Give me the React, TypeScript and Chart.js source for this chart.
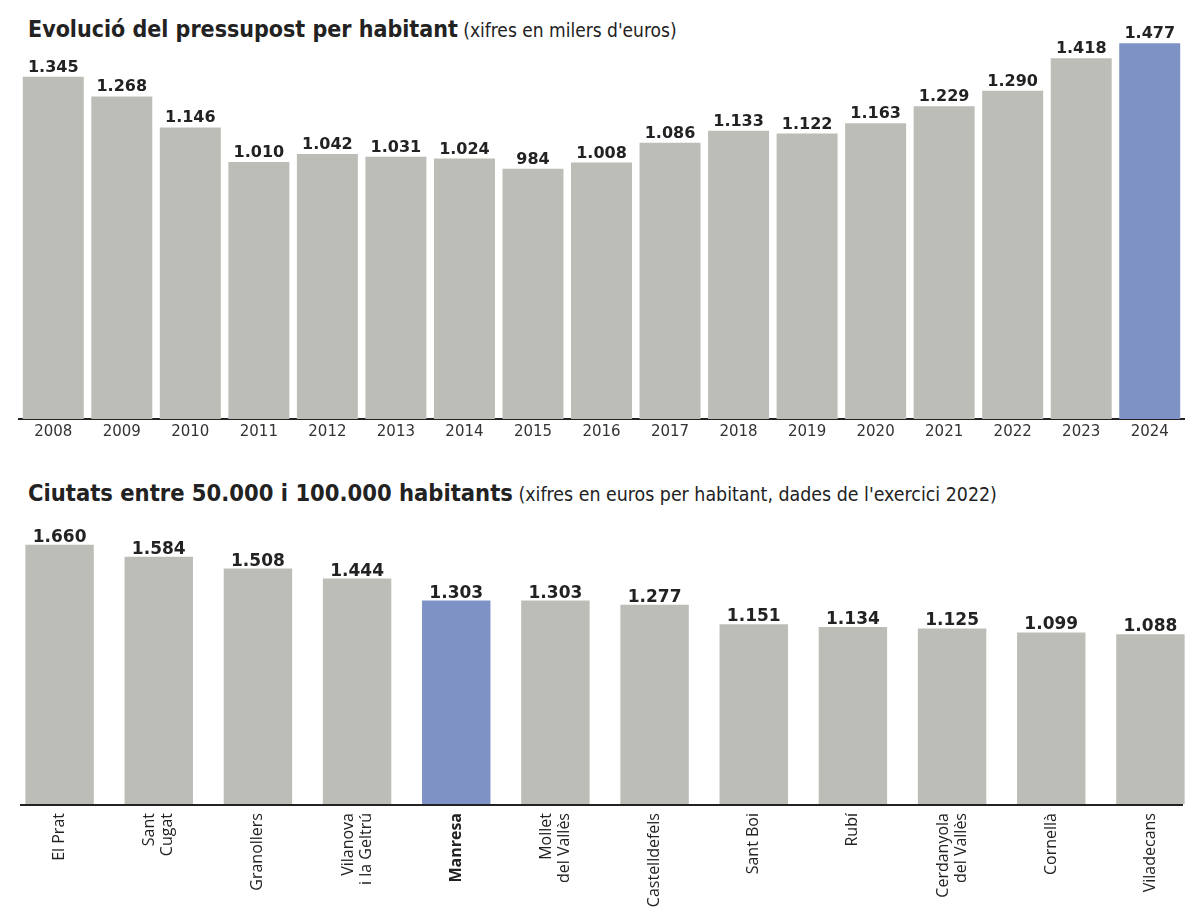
import React, { useEffect, useRef } from "react";
import { Chart, registerables } from "chart.js";

Chart.register(...registerables);

// ---------- data ----------
const years = ["2008", "2009", "2010", "2011", "2012", "2013", "2014", "2015", "2016", "2017", "2018", "2019", "2020", "2021", "2022", "2023", "2024"];
const budgetPerCapita = [1345, 1268, 1146, 1010, 1042, 1031, 1024, 984, 1008, 1086, 1133, 1122, 1163, 1229, 1290, 1418, 1477];
const highlightYear = "2024";

const cities = [
  ["El Prat"],
  ["Sant", "Cugat"],
  ["Granollers"],
  ["Vilanova", "i la Geltrú"],
  ["Manresa"],
  ["Mollet", "del Vallès"],
  ["Castelldefels"],
  ["Sant Boi"],
  ["Rubí"],
  ["Cerdanyola", "del Vallès"],
  ["Cornellà"],
  ["Viladecans"],
];
const cityValues = [1660, 1584, 1508, 1444, 1303, 1303, 1277, 1151, 1134, 1125, 1099, 1088];
const highlightCity = "Manresa";

const topTitle = "Evolució del pressupost per habitant";
const topSubtitle = "(xifres en milers d'euros)";
const bottomTitle = "Ciutats entre 50.000 i 100.000 habitants";
const bottomSubtitle = "(xifres en euros per habitant, dades de l'exercici 2022)";

// ---------- styles ----------
const GREY = "#bdbdb7";
const BLUE = "#7f92c6";
const INK = "#222222";
const CONDENSED = "'DejaVu Sans Condensed', 'Liberation Sans Narrow', 'DejaVu Sans', sans-serif";
const VALUE_FONT = "'DejaVu Sans', sans-serif";
const LABEL_FONT = "'Open Sans', 'DejaVu Sans', sans-serif";

function fmt(v: number): string {
  if (v >= 1000) {
    return `${Math.floor(v / 1000)}.${String(v % 1000).padStart(3, "0")}`;
  }
  return String(v);
}

const valueLabels = {
  id: "valueLabels",
  afterDatasetsDraw(chart: any, _args: any, opts: any) {
    const { ctx } = chart;
    const meta = chart.getDatasetMeta(0);
    const data = chart.data.datasets[0].data as number[];
    ctx.save();
    ctx.font = opts.font;
    ctx.fillStyle = opts.color;
    ctx.textAlign = "center";
    ctx.textBaseline = "alphabetic";
    meta.data.forEach((bar: any, i: number) => {
      ctx.fillText(fmt(data[i]), bar.x, bar.y - opts.offset);
    });
    ctx.restore();
  },
};

// bottom chart: axis line + rotated, centred multi-line category labels
const cityAxis = {
  id: "cityAxis",
  afterDraw(chart: any, _args: any, opts: any) {
    if (!opts || !opts.enabled) return;
    const { ctx, chartArea } = chart;
    const xScale = chart.scales.x;
    const y0 = chartArea.bottom + 1;
    ctx.save();
    ctx.strokeStyle = INK;
    ctx.lineWidth = 2;
    ctx.beginPath();
    ctx.moveTo(opts.x0, y0);
    ctx.lineTo(opts.x1, y0);
    ctx.stroke();

    ctx.fillStyle = INK;
    ctx.textAlign = "right";
    ctx.textBaseline = "middle";
    cities.forEach((lines, i) => {
      const x = xScale.getPixelForValue(i);
      const bold = lines.join(" ") === highlightCity;
      ctx.font = `${bold ? "bold " : ""}${opts.size}px ${LABEL_FONT}`;
      ctx.save();
      ctx.translate(x, y0 + opts.pad);
      ctx.rotate(-Math.PI / 2);
      lines.forEach((line, j) => {
        const dy = (j - (lines.length - 1) / 2) * opts.lineHeight;
        ctx.fillText(line, 0, dy);
      });
      ctx.restore();
    });
    ctx.restore();
  },
};

function TopChart() {
  const ref = useRef<HTMLCanvasElement | null>(null);
  useEffect(() => {
    if (!ref.current) return;
    const chart = new Chart(ref.current, {
      type: "bar",
      data: {
        labels: years,
        datasets: [
          {
            data: budgetPerCapita,
            backgroundColor: years.map((y) => (y === highlightYear ? BLUE : GREY)),
            categoryPercentage: 0.89,
            barPercentage: 1,
            borderWidth: 0,
          },
        ],
      },
      options: {
        responsive: false,
        animation: false,
        devicePixelRatio: 1,
        layout: { padding: { left: 19, right: 16, top: 12, bottom: 0 } },
        plugins: {
          legend: { display: false },
          tooltip: { enabled: false },
          title: { display: false },
          valueLabels: { font: `bold 16px ${VALUE_FONT}`, color: INK, offset: 5 },
        } as any,
        scales: {
          x: {
            grid: { display: false, drawTicks: false },
            border: { display: true, color: INK, width: 2 },
            ticks: {
              color: "#333333",
              font: { family: VALUE_FONT, size: 15 },
              padding: 4,
              autoSkip: false,
              maxRotation: 0,
            },
            afterFit: (axis: any) => {
              axis.height = 26;
            },
          },
          y: {
            display: false,
            min: 0,
            max: 1600,
          },
        },
      },
      plugins: [valueLabels],
    });
    return () => chart.destroy();
  }, []);
  return <canvas ref={ref} width={1200} height={445} style={{ position: "absolute", left: 0, top: 0 }} />;
}

function BottomChart() {
  const ref = useRef<HTMLCanvasElement | null>(null);
  useEffect(() => {
    if (!ref.current) return;
    const chart = new Chart(ref.current, {
      type: "bar",
      data: {
        labels: cities.map((c) => c.join(" ")),
        datasets: [
          {
            data: cityValues,
            backgroundColor: cities.map((c) => (c.join(" ") === highlightCity ? BLUE : GREY)),
            categoryPercentage: 0.69,
            barPercentage: 1,
            borderWidth: 0,
          },
        ],
      },
      options: {
        responsive: false,
        animation: false,
        devicePixelRatio: 1,
        layout: { padding: { left: 10, right: 0, top: 13, bottom: 0 } },
        plugins: {
          legend: { display: false },
          tooltip: { enabled: false },
          title: { display: false },
          valueLabels: { font: `bold 17px ${VALUE_FONT}`, color: INK, offset: 3 },
          cityAxis: { enabled: true, x0: 20, x1: 1183, pad: 8, size: 16, lineHeight: 18 },
        } as any,
        scales: {
          x: {
            grid: { display: false, drawTicks: false },
            border: { display: false },
            ticks: { display: false },
            afterFit: (axis: any) => {
              axis.height = 111;
            },
          },
          y: {
            display: false,
            min: 0,
            max: 1800,
          },
        },
      },
      plugins: [valueLabels, cityAxis],
    });
    return () => chart.destroy();
  }, []);
  return <canvas ref={ref} width={1200} height={405} style={{ position: "absolute", left: 0, top: 510 }} />;
}

function Title({ top, main, sub, mainSize, subSize }: { top: number; main: string; sub: string; mainSize: number; subSize: number }) {
  return (
    <div
      style={{
        position: "absolute",
        left: 28,
        top,
        whiteSpace: "nowrap",
        color: INK,
        lineHeight: "28px",
      }}
    >
      <span style={{ fontFamily: CONDENSED, fontStretch: "condensed", fontWeight: "bold", fontSize: mainSize }}>{main}</span>
      <span style={{ fontFamily: CONDENSED, fontStretch: "condensed", fontWeight: "normal", fontSize: subSize }}> {sub}</span>
    </div>
  );
}

export default function App() {
  return (
    <div
      style={{
        position: "absolute",
        left: 0,
        top: 0,
        width: 1200,
        height: 915,
        background: "#ffffff",
        overflow: "hidden",
      }}
    >
      <Title top={15} main={topTitle} sub={topSubtitle} mainSize={23} subSize={19} />
      <TopChart />
      <Title top={479} main={bottomTitle} sub={bottomSubtitle} mainSize={23.5} subSize={19.4} />
      <BottomChart />
    </div>
  );
}
